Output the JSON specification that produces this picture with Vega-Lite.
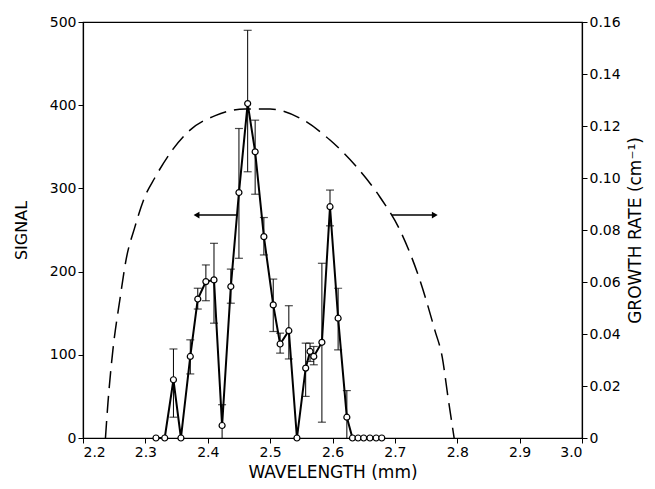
{
  "$schema": "https://vega.github.io/schema/vega-lite/v6.json",
  "width": 499,
  "height": 416,
  "autosize": "none",
  "padding": {"left": 83, "top": 22, "right": 73, "bottom": 51},
  "background": "white",
  "config": {
    "view": {"stroke": "black", "strokeWidth": 1.2},
    "axis": {
      "grid": false,
      "domainColor": "black",
      "domainWidth": 1.2,
      "tickColor": "black",
      "labelColor": "black",
      "titleColor": "black",
      "labelFont": "DejaVu Sans",
      "titleFont": "DejaVu Sans",
      "labelFontSize": 14,
      "titleFontSize": 16,
      "titleFontWeight": "normal",
      "tickSize": 5
    }
  },
  "datasets": {
    "signal": [
      {"w": 2.317, "s": 0},
      {"w": 2.331, "s": 0},
      {"w": 2.345, "s": 70, "lo": 25, "hi": 107},
      {"w": 2.357, "s": 0},
      {"w": 2.372, "s": 98, "lo": 77, "hi": 118},
      {"w": 2.384, "s": 167, "lo": 155, "hi": 180},
      {"w": 2.397, "s": 188, "lo": 165, "hi": 208},
      {"w": 2.41, "s": 190, "lo": 138, "hi": 234},
      {"w": 2.423, "s": 15, "lo": 0, "hi": 40},
      {"w": 2.437, "s": 182, "lo": 162, "hi": 203},
      {"w": 2.45, "s": 295, "lo": 216, "hi": 372},
      {"w": 2.464, "s": 402, "lo": 320, "hi": 490},
      {"w": 2.476, "s": 344, "lo": 293, "hi": 382},
      {"w": 2.49, "s": 242, "lo": 220, "hi": 265},
      {"w": 2.505, "s": 160, "lo": 128, "hi": 191},
      {"w": 2.516, "s": 113, "lo": 102, "hi": 126},
      {"w": 2.53, "s": 129, "lo": 95, "hi": 159},
      {"w": 2.543, "s": 0},
      {"w": 2.557, "s": 84, "lo": 50, "hi": 114},
      {"w": 2.564, "s": 104, "lo": 92, "hi": 114},
      {"w": 2.57, "s": 98, "lo": 88, "hi": 110},
      {"w": 2.583, "s": 115, "lo": 19, "hi": 210},
      {"w": 2.596, "s": 278, "lo": 255, "hi": 298},
      {"w": 2.609, "s": 144, "lo": 106, "hi": 180},
      {"w": 2.623, "s": 25, "lo": 0, "hi": 57},
      {"w": 2.632, "s": 0},
      {"w": 2.641, "s": 0},
      {"w": 2.65, "s": 0},
      {"w": 2.66, "s": 0},
      {"w": 2.67, "s": 0},
      {"w": 2.679, "s": 0}
    ],
    "growth": [
      {"w": 2.236, "g": 0},
      {"w": 2.24, "g": 0.0135},
      {"w": 2.248, "g": 0.034},
      {"w": 2.259, "g": 0.053},
      {"w": 2.269, "g": 0.0685},
      {"w": 2.283, "g": 0.081},
      {"w": 2.299, "g": 0.0927},
      {"w": 2.315, "g": 0.1},
      {"w": 2.344, "g": 0.111},
      {"w": 2.372, "g": 0.1185},
      {"w": 2.412, "g": 0.124},
      {"w": 2.46, "g": 0.1265},
      {"w": 2.5, "g": 0.1265},
      {"w": 2.548, "g": 0.123},
      {"w": 2.596, "g": 0.1146},
      {"w": 2.636, "g": 0.105},
      {"w": 2.676, "g": 0.0927},
      {"w": 2.708, "g": 0.08},
      {"w": 2.74, "g": 0.0608},
      {"w": 2.764, "g": 0.0415},
      {"w": 2.776, "g": 0.031},
      {"w": 2.785, "g": 0.016},
      {"w": 2.795, "g": 0}
    ],
    "arrows": [
      {"dir": "left", "from": 2.447, "to": 2.382, "s": 268},
      {"dir": "right", "from": 2.695, "to": 2.764, "s": 268}
    ]
  },
  "encoding": {
    "x": {
      "field": "w",
      "type": "quantitative",
      "scale": {"domain": [2.2, 3.0], "nice": false, "zero": false},
      "axis": {
        "values": [2.2, 2.3, 2.4, 2.5, 2.6, 2.7, 2.8, 2.9, 3.0],
        "format": ".1f",
        "title": "WAVELENGTH (mm)",
        "titleFontSize": 17,
        "labelPadding": 2,
        "titlePadding": 5
      }
    }
  },
  "layer": [
    {
      "layer": [
        {
          "data": {"name": "signal"},
          "transform": [{"filter": "isValid(datum.hi)"}],
          "mark": {"type": "rule", "color": "black", "strokeWidth": 1},
          "encoding": {
            "y": {"field": "lo", "type": "quantitative", "scale": {"domain": [0, 500], "nice": false}},
            "y2": {"field": "hi"}
          }
        },
        {
          "data": {"name": "signal"},
          "transform": [{"filter": "isValid(datum.hi)"}],
          "mark": {"type": "tick", "orient": "horizontal", "color": "black", "size": 8, "thickness": 1.2},
          "encoding": {
            "y": {"field": "hi", "type": "quantitative", "scale": {"domain": [0, 500], "nice": false}}
          }
        },
        {
          "data": {"name": "signal"},
          "transform": [{"filter": "isValid(datum.lo) && datum.lo > 0"}],
          "mark": {"type": "tick", "orient": "horizontal", "color": "black", "size": 8, "thickness": 1.2},
          "encoding": {
            "y": {"field": "lo", "type": "quantitative", "scale": {"domain": [0, 500], "nice": false}}
          }
        },
        {
          "data": {"name": "signal"},
          "mark": {"type": "line", "color": "black", "strokeWidth": 2},
          "encoding": {
            "y": {"field": "s", "type": "quantitative", "scale": {"domain": [0, 500], "nice": false},
              "axis": {"values": [0, 100, 200, 300, 400, 500], "title": "SIGNAL", "labelPadding": 2, "titlePadding": 20}}
          }
        },
        {
          "data": {"name": "signal"},
          "mark": {"type": "point", "shape": "circle", "filled": true, "fill": "white", "stroke": "black", "strokeWidth": 1.2, "size": 36, "opacity": 1},
          "encoding": {
            "y": {"field": "s", "type": "quantitative", "scale": {"domain": [0, 500], "nice": false}}
          }
        },
        {
          "data": {"name": "arrows"},
          "mark": {"type": "rule", "color": "black", "strokeWidth": 1.3},
          "encoding": {
            "x": {"field": "from", "type": "quantitative"},
            "x2": {"field": "to"},
            "y": {"field": "s", "type": "quantitative", "scale": {"domain": [0, 500], "nice": false}}
          }
        },
        {
          "data": {"name": "arrows"},
          "transform": [{"filter": "datum.dir == 'left'"}],
          "mark": {"type": "point", "shape": "triangle-left", "filled": true, "color": "black", "size": 45, "opacity": 1},
          "encoding": {
            "x": {"field": "to", "type": "quantitative"},
            "y": {"field": "s", "type": "quantitative", "scale": {"domain": [0, 500], "nice": false}}
          }
        },
        {
          "data": {"name": "arrows"},
          "transform": [{"filter": "datum.dir == 'right'"}],
          "mark": {"type": "point", "shape": "triangle-right", "filled": true, "color": "black", "size": 45, "opacity": 1},
          "encoding": {
            "x": {"field": "to", "type": "quantitative"},
            "y": {"field": "s", "type": "quantitative", "scale": {"domain": [0, 500], "nice": false}}
          }
        }
      ]
    },
    {
      "data": {"name": "growth"},
      "mark": {"type": "line", "color": "black", "strokeWidth": 1.5, "strokeDash": [17, 8], "interpolate": "monotone"},
      "encoding": {
        "y": {
          "field": "g",
          "type": "quantitative",
          "scale": {"domain": [0, 0.16], "nice": false},
          "axis": {
            "orient": "right",
            "values": [0, 0.02, 0.04, 0.06, 0.08, 0.1, 0.12, 0.14, 0.16],
            "labelExpr": "datum.value == 0 ? '0' : format(datum.value, '.2f')",
            "title": "GROWTH RATE (cm⁻¹)",
            "titleFontSize": 17,
            "titleAngle": 270,
            "titleBaseline": "top",
            "labelPadding": 2,
            "titlePadding": 7
          }
        }
      }
    }
  ],
  "resolve": {"scale": {"y": "independent"}, "axis": {"y": "independent"}}
}
